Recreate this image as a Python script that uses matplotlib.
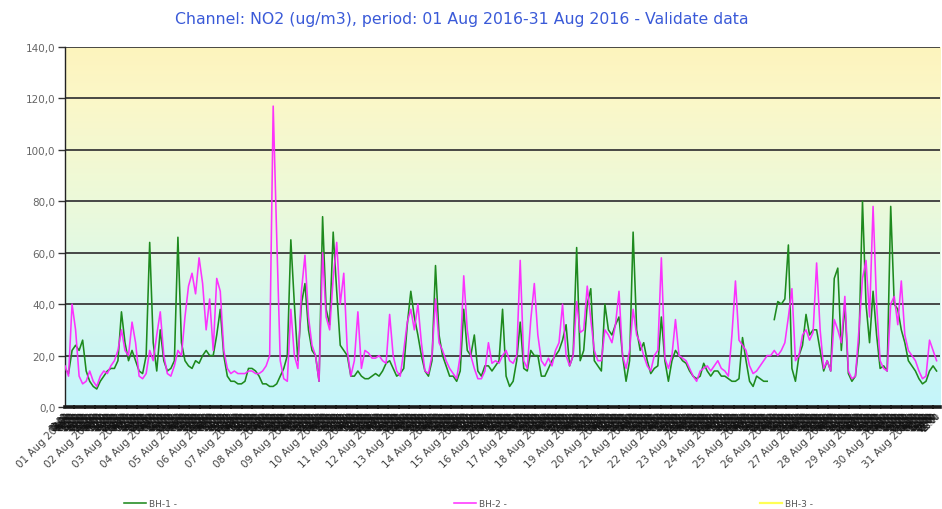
import numpy as np
import matplotlib
matplotlib.use("Agg")
import matplotlib.pyplot as plt
from matplotlib.colors import LinearSegmentedColormap

# ---------------- data (3-hourly samples, 8 per day, 01-31 Aug 2016) ----------------
day_labels = [f"{d:02d} Aug 2016" for d in range(1, 32)]
sample_step_h = 3

bh1 = [  # BH-1 (green)
    15, 13, 22, 24, 22, 26, 14, 10,
    8, 7, 10, 12, 14, 15, 15, 18,
    37, 25, 18, 22, 18, 14, 13, 20,
    64, 25, 14, 30, 18, 14, 15, 18,
    66, 25, 18, 16, 15, 18, 17, 20,
    22, 20, 20, 28, 38, 20, 12, 10,
    10, 9, 9, 10, 15, 15, 14, 12,
    9, 9, 8, 8, 9, 12, 15, 20,
    65, 40, 18, 40, 48, 30, 22, 20,
    10, 74, 38, 32, 68, 45, 24, 22,
    20, 12, 12, 14, 12, 11, 11, 12,
    13, 12, 14, 17, 18, 15, 12, 13,
    15, 32, 45, 35, 28, 20, 14, 12,
    18, 55, 28, 20, 16, 12, 12, 10,
    14, 38, 22, 20, 28, 14, 12, 16,
    16, 14, 16, 18, 38, 12, 8, 10,
    18, 33, 15, 14, 22, 20, 20, 12,
    12, 15, 18, 20, 22, 26, 32, 16,
    20, 62, 18, 22, 40, 46, 18, 16,
    14, 40, 30, 28, 32, 35, 20, 10,
    18, 68, 30, 22, 25, 18, 13, 15,
    16, 35, 18, 10, 18, 22, 20, 18,
    17, 14, 12, 11, 12, 17, 14, 12,
    14, 14, 12, 12, 11, 10, 10, 11,
    27, 18, 10, 8, 12, 11, 10, 10,
    np.nan, 34, 41, 40, 42, 63, 15, 10,
    20, 24, 36, 28, 30, 30, 22, 14,
    18, 14, 50, 54, 22, 40, 13, 10,
    12, 25, 80, 40, 25, 45, 28, 15,
    16, 14, 78, 40, 38, 30, 25, 18,
    16, 14, 11, 9, 10, 14, 16, 14,
]

bh2 = [  # BH-2 (magenta)
    16, 12, 40, 30, 12, 9, 10, 14,
    10, 8, 12, 14, 13, 16, 18, 22,
    30, 22, 20, 33, 25, 12, 11, 13,
    22, 18, 28, 37, 20, 13, 12, 16,
    22, 20, 35, 47, 52, 44, 58, 48,
    30, 42, 22, 50, 45, 22, 15, 13,
    14, 13, 13, 13, 14, 14, 13, 13,
    14, 16, 20, 117, 66, 18, 11, 10,
    38, 20, 15, 45, 59, 35, 24, 20,
    10, 60, 35, 30, 50, 64, 40, 52,
    22, 12, 18, 37, 15, 22, 21, 19,
    19, 20, 18, 17, 36, 20, 14, 12,
    22, 33, 38, 30, 40, 25, 14, 13,
    20, 42, 25, 22, 18, 15, 13, 11,
    20, 51, 30, 20, 15, 11, 11, 14,
    25, 17, 18, 17, 20, 22, 18, 17,
    20, 57, 18, 15, 34, 48, 28, 18,
    16, 19, 16, 22, 25, 40, 20, 16,
    20, 41, 29, 30, 47, 34, 22, 18,
    18, 30, 28, 25, 32, 45, 20, 15,
    22, 38, 28, 25, 20, 16, 14, 20,
    22, 58, 19, 15, 20, 34, 20, 19,
    18, 15, 12, 10, 14, 15, 16, 14,
    16, 18, 15, 14, 12, 28, 49, 26,
    24, 22, 16, 13, 14, 16, 18, 20,
    20, 22, 20, 22, 25, 35, 46, 18,
    20, 28, 30, 26, 29, 56, 30, 15,
    18, 14, 34, 30, 25, 43, 14, 11,
    12, 30, 50, 57, 35, 78, 40, 18,
    15, 14, 40, 43, 32, 49, 28, 22,
    20, 18, 14, 11, 12, 26, 22, 18,
]

bh3 = []  # BH-3 (no data in period)

y_ticks = [0, 20, 40, 60, 80, 100, 120, 140]
title = "Channel: NO2 (ug/m3), period: 01 Aug 2016-31 Aug 2016 - Validate data"

# ---------------- figure ----------------
fig = plt.figure(figsize=(9.42, 5.10), dpi=100)
fig.patch.set_facecolor("white")
ax = fig.add_axes([0.069, 0.200, 0.929, 0.706])

n_hours = len(day_labels) * 24
x = np.arange(len(bh1)) * sample_step_h

# background gradient
grad_cmap = LinearSegmentedColormap.from_list(
    "bg", [(0.0, "#c4f5fb"), (0.3, "#d8f8ec"), (0.55, "#ebfadb"),
           (0.85, "#fbf7c8"), (1.0, "#fdf4bd")])
grad = np.linspace(0, 1, 256).reshape(-1, 1)
ax.imshow(grad, cmap=grad_cmap, aspect="auto", origin="lower",
          extent=(0, 1, 0, 1), transform=ax.transAxes, zorder=0)

ax.plot(x, bh1, color="#1e8a1e", lw=1.15, zorder=3, label="BH-1 -")
ax.plot(x, bh2, color="#ff22ff", lw=1.15, alpha=0.92, zorder=4, label="BH-2 -")
ax.plot(bh3, bh3, color="#ffff55", lw=1.6, label="BH-3 -")

ax.set_xlim(0, n_hours)
ax.set_ylim(0, 140)

# y axis
ax.set_yticks(y_ticks)
ax.set_yticklabels([f"{v:.1f}".replace(".", ",") for v in y_ticks])
ax.tick_params(axis="y", length=5, width=1, color="#333333",
               labelcolor="#666666", labelsize=7.5, pad=2)
ax.set_axisbelow(True)
ax.yaxis.grid(True, color="#3a3a3a", lw=1.3)

# x axis: days (major) and hours (minor)
day_pos = np.arange(len(day_labels)) * 24
hour_pos = [h for h in range(n_hours) if h % 24 != 0]
ax.set_xticks(day_pos)
ax.set_xticklabels(day_labels, rotation=45, ha="right",
                   rotation_mode="anchor", va="center")
ax.set_xticks(hour_pos, minor=True)
ax.set_xticklabels([f"{h % 24:02d}:00" for h in hour_pos], minor=True,
                   rotation=45, ha="right", rotation_mode="anchor", va="center")
ax.tick_params(axis="x", which="major", length=0, labelsize=7.5,
               labelcolor="#444444", pad=8)
ax.tick_params(axis="x", which="minor", length=0, labelsize=5.5,
               labelcolor="#111111", pad=5)

for s in ("top", "right"):
    ax.spines[s].set_visible(False)
ax.spines["left"].set_color("#222222")
ax.spines["left"].set_linewidth(1.0)
ax.spines["bottom"].set_color("#1a1a1a")
ax.spines["bottom"].set_linewidth(2.6)
ax.spines["bottom"].set_linestyle((0, (2.2, 0.7)))

# title
fig.text(0.490, 0.962, title, ha="center", va="center",
         color="#3a5ad8", fontsize=11.3)

# legend entries (three separate, spread across the bottom)
handles, labels = ax.get_legend_handles_labels()
legend_x = [0.128, 0.478, 0.803]
for hnd, lab, lx in zip(handles, labels, legend_x):
    lg = fig.legend([hnd], [lab], loc="center left", bbox_to_anchor=(lx, 0.010),
                    frameon=False, fontsize=6.5, handlelength=2.4,
                    handletextpad=0.4, borderaxespad=0)
    for t in lg.get_texts():
        t.set_color("#555555")

fig.savefig("out.png", dpi=100, facecolor="white")
